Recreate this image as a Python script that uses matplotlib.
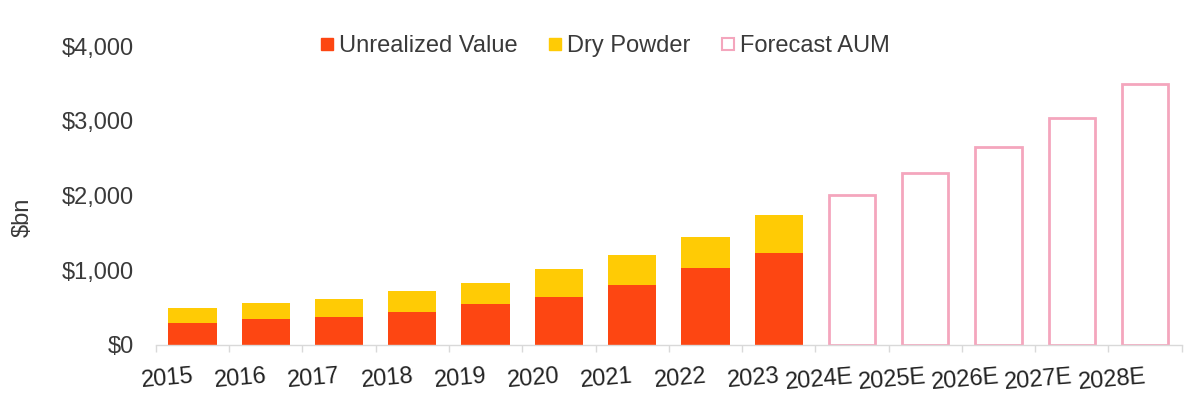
import matplotlib.pyplot as plt
from matplotlib.lines import Line2D
from matplotlib.ticker import FuncFormatter, FixedLocator
import numpy as np

plt.rcParams['font.family'] = ['Liberation Sans', 'DejaVu Sans']

# Private markets AUM, $bn
years = ['2015', '2016', '2017', '2018', '2019', '2020', '2021', '2022', '2023',
         '2024E', '2025E', '2026E', '2027E', '2028E']
unrealized = [298, 344, 380, 435, 545, 645, 803, 1028, 1235]
dry_powder = [197, 214, 235, 287, 282, 368, 401, 415, 500]
forecast_aum = [2007, 2305, 2645, 3041, 3492]

c_unreal = '#fd4612'
c_dry = '#ffcb05'
c_fore = '#f4a6bd'
txt = '#3a3a3a'

fig = plt.figure(figsize=(11.84, 3.96), dpi=100)
ax = fig.add_axes([0.1316, 0.1288, 0.8665, 0.755])

x = np.arange(len(years))
n_hist = len(unrealized)
w = 0.66

ax.bar(x[:n_hist], unrealized, w, color=c_unreal)
ax.bar(x[:n_hist], dry_powder, w, bottom=unrealized, color=c_dry)
ax.bar(x[n_hist:], forecast_aum, w - 0.03, facecolor='white', edgecolor=c_fore, linewidth=2)

ax.set_xlim(-0.5, len(years) - 0.5)
ax.set_ylim(0, 4000)
ax.set_yticks([0, 1000, 2000, 3000, 4000])
ax.yaxis.set_major_formatter(FuncFormatter(lambda v, p: '${:,.0f}'.format(v)))
ax.tick_params(axis='y', length=0, pad=16, labelsize=17, labelcolor=txt)

ax.set_xticks(x)
ax.set_xticklabels(years, rotation=5, ha='right', rotation_mode='anchor')
ax.tick_params(axis='x', which='major', length=0, pad=15, labelsize=17, labelcolor='#222222')
ax.xaxis.set_minor_locator(FixedLocator(np.arange(-0.5, len(years), 1.0)))
ax.tick_params(axis='x', which='minor', length=5, width=1, color='#d9d9d9')

for s in ['top', 'right', 'left']:
    ax.spines[s].set_visible(False)
ax.spines['bottom'].set_color('#d9d9d9')
ax.spines['bottom'].set_linewidth(1)

fig.text(0.019, 0.452, '$bn', rotation=90, ha='center', va='center', fontsize=17, color=txt)

handles = [
    Line2D([], [], marker='s', linestyle='none', markersize=9, markerfacecolor=c_unreal, markeredgecolor=c_unreal),
    Line2D([], [], marker='s', linestyle='none', markersize=9, markerfacecolor=c_dry, markeredgecolor=c_dry),
    Line2D([], [], marker='s', linestyle='none', markersize=8, markerfacecolor='white', markeredgecolor=c_fore, markeredgewidth=1.5),
]
fig.legend(handles, ['Unrealized Value', 'Dry Powder', 'Forecast AUM'],
           loc='center', bbox_to_anchor=(0.511, 0.884), ncol=3, frameon=False,
           fontsize=17, labelcolor=txt, handlelength=0.6, handletextpad=0.2,
           columnspacing=1.3, borderpad=0)

fig.savefig('out.png', dpi=100, facecolor='white')
